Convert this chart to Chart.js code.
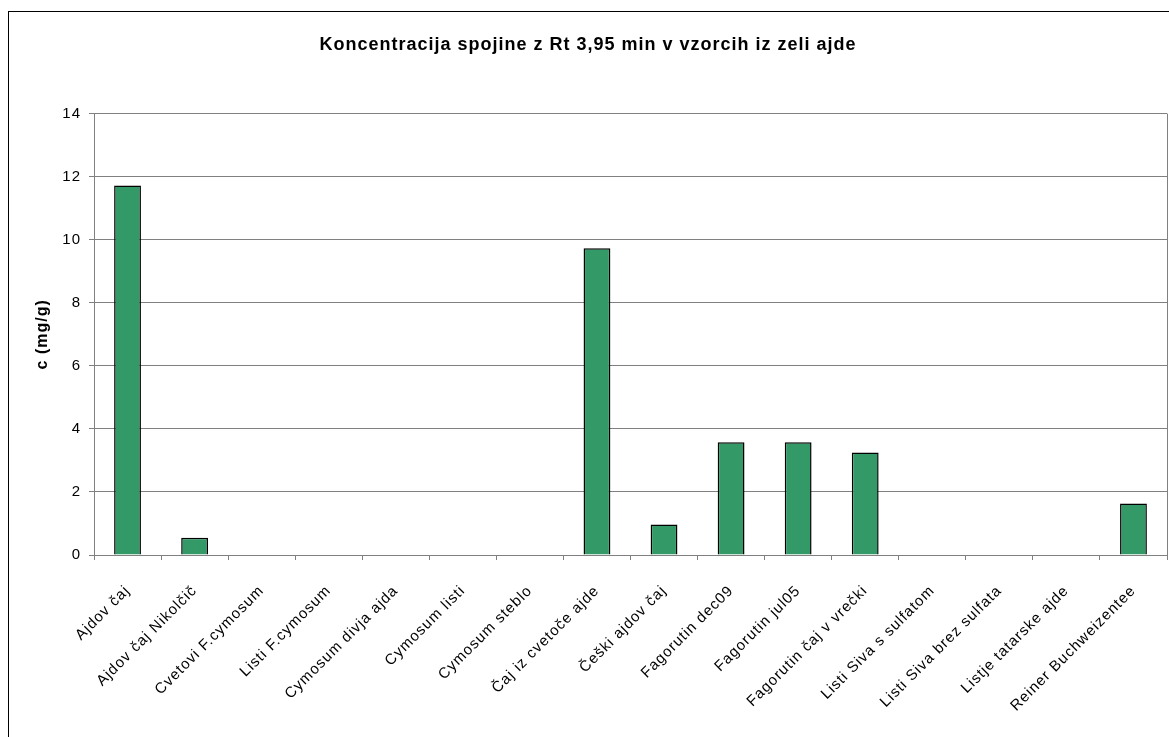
<!DOCTYPE html>
<html>
<head>
<meta charset="utf-8">
<script src="https://cdn.jsdelivr.net/npm/chart.js@4"></script>
<style>
  html, body { margin: 0; padding: 0; background: #fff; overflow: hidden; }
  #frame {
    position: absolute; left: 8px; top: 11px;
    width: 1161px; height: 726px;
    border: 1px solid #000;
  }
  #chart { display: block; }
</style>
</head>
<body>
<div id="frame"><canvas id="chart" width="1161" height="726"></canvas></div>
<script>
const samples = [
  "Ajdov čaj", "Ajdov čaj Nikolčič", "Cvetovi F.cymosum", "Listi F.cymosum",
  "Cymosum divja ajda", "Cymosum listi", "Cymosum steblo", "Čaj iz cvetoče ajde",
  "Češki ajdov čaj", "Fagorutin dec09", "Fagorutin jul05", "Fagorutin čaj v vrečki",
  "Listi Siva s sulfatom", "Listi Siva brez sulfata", "Listje tatarske ajde", "Reiner Buchweizentee"
];
const concentration = [11.72, 0.55, 0, 0, 0, 0, 0, 9.73, 0.97, 3.58, 3.58, 3.25, 0, 0, 0, 1.63];
const yTicks = [0, 2, 4, 6, 8, 10, 12, 14];

const FONT = "'Liberation Sans', Arial, sans-serif";
const GREY = "#808080";

// slightly loose letter spacing for all text, like the office chart look
const textSpacing = {
  id: "textSpacing",
  beforeDraw(chart) { chart.ctx.letterSpacing = "1px"; },
  afterDraw(chart) { chart.ctx.letterSpacing = "0px"; }
};

// grey right edge of the plot area
const plotEdge = {
  id: "plotEdge",
  afterDraw(chart) {
    const { ctx, chartArea } = chart;
    ctx.save();
    ctx.strokeStyle = GREY;
    ctx.lineWidth = 1;
    ctx.beginPath();
    ctx.moveTo(Math.round(chartArea.right) + 0.5, chartArea.top);
    ctx.lineTo(Math.round(chartArea.right) + 0.5, chartArea.bottom + 5);
    ctx.stroke();
    ctx.restore();
  }
};

new Chart(document.getElementById("chart"), {
  type: "bar",
  data: {
    labels: samples,
    datasets: [{
      data: concentration,
      backgroundColor: "#339966",
      borderColor: "#000",
      borderWidth: 1.5,
      borderSkipped: "start",
      barPercentage: 0.4,
      categoryPercentage: 1
    }]
  },
  options: {
    responsive: false,
    animation: false,
    layout: { padding: { left: 0, right: 3, bottom: 0 } },
    plugins: {
      legend: { display: false },
      tooltip: { enabled: false },
      title: {
        display: true,
        text: "Koncentracija spojine z Rt 3,95 min v vzorcih iz zeli ajde",
        color: "#000",
        font: { family: FONT, size: 18, weight: "bold" },
        padding: { top: 22, bottom: 58 }
      }
    },
    scales: {
      x: {
        grid: { display: true, drawOnChartArea: false, drawTicks: true, tickLength: 5, color: GREY, offset: true },
        border: { color: GREY, width: 1 },
        ticks: {
          color: "#000",
          font: { family: FONT, size: 15 },
          maxRotation: 45, minRotation: 45,
          autoSkip: false,
          padding: 22
        },
        afterFit(scale) { scale.height = 183; }
      },
      y: {
        min: 0, max: 14,
        afterBuildTicks(scale) { scale.ticks = yTicks.map(v => ({ value: v })); },
        grid: { color: GREY, tickLength: 5 },
        border: { color: GREY, width: 1 },
        ticks: {
          color: "#000",
          font: { family: FONT, size: 15 },
          padding: 8
        },
        title: {
          display: true,
          text: "c (mg/g)",
          color: "#000",
          font: { family: FONT, size: 16, weight: "bold" },
          padding: { top: 24, bottom: 0 }
        },
        afterFit(scale) { scale.width = 85; }
      }
    }
  },
  plugins: [textSpacing, plotEdge]
});
</script>
</body>
</html>
